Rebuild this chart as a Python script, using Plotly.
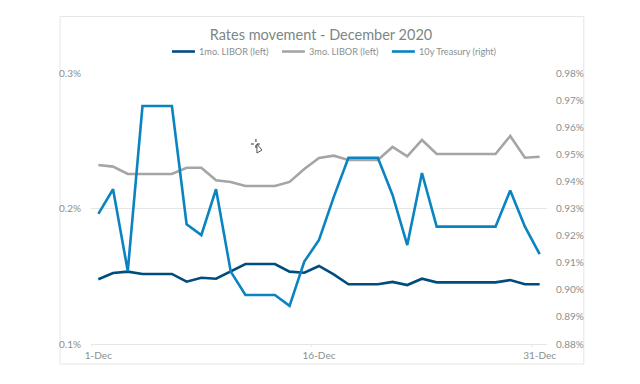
import plotly.graph_objects as go

days = [f"{d}-Dec" for d in range(1, 32)]
libor_1m = [.1478, .1524, .1534, .1517, .1517, .1517, .1460, .1489, .1482, .1539, .1590,
            .1590, .1590, .1534, .1526, .1576, .1514, .1441, .1441, .1441, .1458, .1435,
            .1482, .1455, .1455, .1455, .1455, .1455, .1472, .1441, .1441]
libor_3m = [.2321, .2309, .2255, .2255, .2255, .2255, .2301, .2301, .2208, .2196, .2166,
            .2166, .2166, .2196, .2292, .2373, .2390, .2358, .2358, .2358, .2454, .2385,
            .2506, .2402, .2402, .2402, .2402, .2402, .2535, .2375, .2382]
treasury_10y = [.9280, .9371, .9069, .9678, .9678, .9678, .9242, .9202, .9371, .9067, .8981,
                .8981, .8981, .8941, .9104, .9184, .9342, .9487, .9487, .9487, .9350, .9165,
                .9431, .9233, .9233, .9233, .9233, .9233, .9366, .9233, .9132]
x_tick_labels = ["1-Dec", "16-Dec", "31-Dec"]
left_ticks = [0.1, 0.2, 0.3]
right_ticks = [.88, .89, .90, .91, .92, .93, .94, .95, .96, .97, .98]
series_names = ["1mo. LIBOR (left)", "3mo. LIBOR (left)", "10y Treasury (right)"]
series_colors = ["#004c7f", "#a5a5a5", "#0a84c1"]

W, H = 640, 384
L, R, T, B = 90.5, 546.7, 73.0, 344.0
FONT = "Lato"
TXT = "#8a8f8f"
GRID = "#e6e6e6"


def px(x):
    return (x - L) / (R - L)


def py(y):
    return (B - y) / (B - T)


fig = go.Figure()
for name, vals, color, axis in zip(series_names, [libor_1m, libor_3m, treasury_10y], series_colors, ["y", "y", "y2"]):
    fig.add_trace(go.Scatter(x=days, y=vals, name=name, mode="lines", yaxis=axis, showlegend=False,
                             line=dict(color=color, width=2.6), hoverinfo="skip"))

shapes = [
    dict(type="rect", xref="paper", yref="paper", x0=px(59.5), x1=px(583.5), y0=py(364), y1=py(16.5),
         line=dict(color=GRID, width=1), fillcolor="rgba(0,0,0,0)", layer="below"),
]
for tick in [-0.5, 14.5, 29.5]:
    shapes.append(dict(type="line", xref="x", yref="paper", x0=tick, x1=tick, y0=0, y1=py(347),
                       line=dict(color=GRID, width=1), layer="below"))

# legend laid out as in the reference: short line sample followed by its label
annotations = []
for name, color, x0 in zip(series_names, series_colors, [171.5, 281.5, 391.5]):
    shapes.append(dict(type="line", xref="paper", yref="paper", x0=px(x0), x1=px(x0 + 23), y0=py(51.5), y1=py(51.5),
                       line=dict(color=color, width=2.6)))
    annotations.append(dict(text=name, xref="paper", yref="paper", x=px(x0 + 25), y=py(51.5),
                            xanchor="left", yanchor="middle", showarrow=False,
                            font=dict(family=FONT, size=9.2, color=TXT)))

# mouse pointer visible in the reference picture
cx, cy = 255.5, 144.0
shapes.append(dict(type="path", xref="paper", yref="paper",
                   path="M {} {} L {} {} L {} {} L {} {} Z".format(
                       px(cx + 1), py(cy), px(cx + 1), py(cy + 9), px(cx + 6), py(cy + 6), px(cx + 1), py(cy)),
                   line=dict(color="#555555", width=1), fillcolor="#ffffff"))
for a, b, c, d in [(-5, 0, 5, 0), (0, -5, 0, 5)]:
    shapes.append(dict(type="line", xref="paper", yref="paper",
                       x0=px(cx + a), x1=px(cx + c), y0=py(cy + b), y1=py(cy + d),
                       line=dict(color="#333333", width=1, dash="dot")))

fig.update_layout(
    width=W, height=H, autosize=False,
    margin=dict(l=L, r=W - R, t=T, b=H - B),
    paper_bgcolor="white", plot_bgcolor="white",
    font=dict(family=FONT, size=10, color=TXT),
    title=dict(text="Rates movement - December 2020", x=(211 + 431) / 2 / W, xanchor="center",
               y=1 - 35 / H, yanchor="middle", font=dict(family=FONT, size=14.5, color="#7b8786")),
    xaxis=dict(type="category", categoryorder="array", categoryarray=days, range=[-0.5, 30.5],
               tickmode="array", tickvals=x_tick_labels, ticktext=x_tick_labels, ticks="",
               showgrid=False, showline=True, linecolor=GRID, linewidth=1, zeroline=False,
               tickfont=dict(family=FONT, size=10, color=TXT), ticklabelstandoff=2),
    yaxis=dict(range=[0.1, 0.3], tickmode="array", tickvals=left_ticks,
               ticktext=[f"{v:.1f}%" for v in left_ticks], gridcolor=GRID, gridwidth=1,
               zeroline=False, showline=False, ticks="",
               tickfont=dict(family=FONT, size=10, color=TXT), ticklabelstandoff=9),
    yaxis2=dict(range=[0.88, 0.98], overlaying="y", side="right", tickmode="array", tickvals=right_ticks,
                ticktext=[f"{v:.2f}%" for v in right_ticks], showgrid=False, zeroline=False,
                showline=False, ticks="",
                tickfont=dict(family=FONT, size=10, color=TXT), ticklabelstandoff=8),
    shapes=shapes,
    annotations=annotations,
)
fig.write_html("out.html", config={"displayModeBar": False}, post_script="document.body.style.margin='0';")
